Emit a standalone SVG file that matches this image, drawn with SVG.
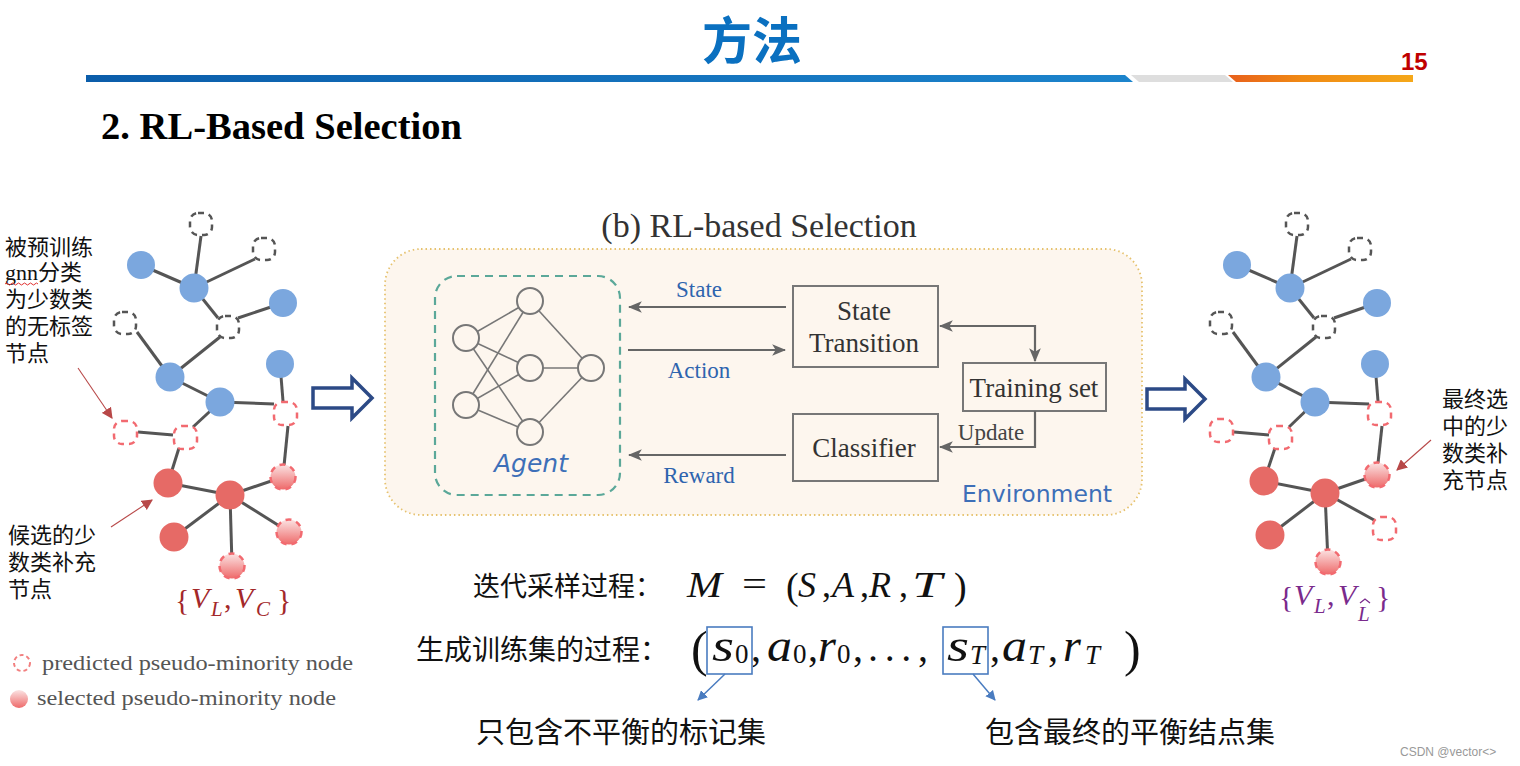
<svg xmlns="http://www.w3.org/2000/svg" width="1520" height="766" viewBox="0 0 1520 766">
<defs>
<linearGradient id="gBlue" x1="0" y1="0" x2="1" y2="0"><stop offset="0" stop-color="#0B5DAA"/><stop offset="1" stop-color="#1C84CC"/></linearGradient>
<linearGradient id="gOrange" x1="0" y1="0" x2="1" y2="0"><stop offset="0" stop-color="#E8601C"/><stop offset="0.4" stop-color="#F08A14"/><stop offset="1" stop-color="#F5A81A"/></linearGradient>
<linearGradient id="gSel" x1="0" y1="0" x2="0" y2="1"><stop offset="0" stop-color="#FBE3E3"/><stop offset="1" stop-color="#EE6A6A"/></linearGradient>
<marker id="ahBig" viewBox="0 0 12 10" refX="11" refY="5" markerWidth="14" markerHeight="12" markerUnits="userSpaceOnUse" orient="auto-start-reverse"><path d="M0,0 L12,5 L0,10 L3,5 z" fill="#666"/></marker>
<marker id="ahRed" viewBox="0 0 10 10" refX="9" refY="5" markerWidth="11" markerHeight="11" markerUnits="userSpaceOnUse" orient="auto"><path d="M0,0 L10,5 L0,10 z" fill="#B84848"/></marker>
<marker id="ahBlue" viewBox="0 0 10 10" refX="9" refY="5" markerWidth="10" markerHeight="10" markerUnits="userSpaceOnUse" orient="auto"><path d="M0,0 L10,5 L0,10 z" fill="#4A7CC0"/></marker>
</defs>
<style>
.edge{stroke:#555;stroke-width:3;fill:none}
.bn{fill:#7BA7DE}
.rn{fill:#E66A66}
.dg{fill:none;stroke:#555;stroke-width:2.5;stroke-dasharray:6 5}
.dr{fill:none;stroke:#F26A70;stroke-width:2.5;stroke-dasharray:6 5}
.sel{fill:url(#gSel);stroke:#F26A70;stroke-width:2.5;stroke-dasharray:6 5}
.cn{font-family:"Noto Sans CJK SC",sans-serif;fill:#111}
.serif{font-family:"Liberation Serif","Times New Roman",serif}
.it{font-style:italic}
.box{fill:none;stroke:#777;stroke-width:2}
.nn{fill:#FDF6EE;stroke:#777;stroke-width:2}
.nl{stroke:#777;stroke-width:1.6}
.arr{stroke:#666;stroke-width:2.2;fill:none}
.lbl{font-family:"Liberation Serif",serif;font-size:23px;fill:#2E64AE}
.bt{font-family:"Liberation Serif",serif;font-size:27px;fill:#333;text-anchor:middle}
.ann{stroke:#B84848;stroke-width:1.1}
.big{fill:#fff;stroke:#2C4A86;stroke-width:3.5;stroke-linejoin:miter}
</style>
<rect width="1520" height="766" fill="#fff"/>

<g id="header">
<text x="752" y="59" text-anchor="middle" font-family="Noto Sans CJK SC,sans-serif" font-weight="bold" font-size="50" fill="#0A70C0">方法</text>
<text x="1401" y="70" font-family="Liberation Sans,Arial,sans-serif" font-weight="bold" font-size="24" fill="#C00000">15</text>
<polygon points="86,75 1125,75 1133,82 86,82" fill="url(#gBlue)"/>
<polygon points="1131,75 1225,75 1233,82 1139,82" fill="#DEDEDE"/>
<polygon points="1228,75 1413,75 1413,82 1236,82" fill="url(#gOrange)"/>
<text x="101" y="139" font-family="Liberation Serif,serif" font-weight="bold" font-size="37" fill="#000" textLength="361" lengthAdjust="spacingAndGlyphs">2. RL-Based Selection</text>
</g>

<g id="left-graph">
<g id="left-edges">
<line class="edge" x1="141" y1="265" x2="194" y2="288"/>
<line class="edge" x1="194" y1="288" x2="201" y2="236"/>
<line class="edge" x1="194" y1="288" x2="255" y2="259"/>
<line class="edge" x1="194" y1="288" x2="218" y2="318"/>
<line class="edge" x1="238" y1="318" x2="283" y2="303"/>
<line class="edge" x1="170" y1="377" x2="220" y2="337"/>
<line class="edge" x1="137" y1="332" x2="170" y2="377"/>
<line class="edge" x1="170" y1="377" x2="220" y2="402"/>
<line class="edge" x1="220" y1="402" x2="193" y2="427"/>
<line class="edge" x1="220" y1="402" x2="274" y2="404"/>
<line class="edge" x1="280" y1="364" x2="283" y2="401"/>
<line class="edge" x1="138" y1="432" x2="173" y2="435"/>
<line class="edge" x1="179" y1="448" x2="168" y2="483"/>
<line class="edge" x1="288" y1="426" x2="284" y2="466"/>
<line class="edge" x1="168" y1="483" x2="230" y2="495"/>
<line class="edge" x1="230" y1="495" x2="283" y2="477"/>
<line class="edge" x1="230" y1="495" x2="174" y2="537"/>
<line class="edge" x1="230" y1="495" x2="289" y2="532"/>
<line class="edge" x1="230" y1="495" x2="232" y2="565"/>
</g>
<g id="L-A"><circle class="bn" cx="141" cy="265" r="14"/></g>
<g id="L-B"><circle class="bn" cx="194" cy="288" r="14.5"/></g>
<g id="L-C"><circle class="bn" cx="283" cy="303" r="14"/></g>
<g id="L-D"><circle class="bn" cx="170" cy="377" r="14.5"/></g>
<g id="L-E"><circle class="bn" cx="220" cy="402" r="14.5"/></g>
<g id="L-F"><circle class="bn" cx="280" cy="364" r="14"/></g>
<g id="L-G1"><rect class="dg" x="190" y="213" width="22" height="22" rx="8"/></g>
<g id="L-G2"><rect class="dg" x="253" y="238" width="22" height="22" rx="8"/></g>
<g id="L-G3"><rect class="dg" x="217" y="316" width="22" height="22" rx="8"/></g>
<g id="L-G4"><rect class="dg" x="114" y="312" width="22" height="22" rx="8"/></g>
<g id="L-R1"><rect class="dr" x="114" y="421" width="23" height="23" rx="8"/></g>
<g id="L-R2"><rect class="dr" x="174" y="426" width="23" height="23" rx="8"/></g>
<g id="L-R3"><rect class="dr" x="274" y="402" width="23" height="23" rx="8"/></g>
<g id="L-S1"><circle class="rn" cx="168" cy="483" r="14.5"/></g>
<g id="L-S2"><circle class="rn" cx="230" cy="495" r="14.5"/></g>
<g id="L-S3"><circle class="rn" cx="174" cy="537" r="14.5"/></g>
<g id="L-P1"><circle class="sel" cx="283" cy="477" r="12.5"/></g>
<g id="L-P2"><circle class="sel" cx="289" cy="532" r="12.5"/></g>
<g id="L-P3"><circle class="sel" cx="232" cy="566" r="12.5"/></g>
<g id="L-label" class="serif" fill="#A3282A">
<text x="175" y="610" font-size="30">{</text>
<text x="191" y="608" font-size="30" class="it">V</text>
<text x="211" y="616" font-size="21" class="it">L</text>
<text x="224" y="608" font-size="30">,</text>
<text x="235" y="608" font-size="30" class="it">V</text>
<text x="256" y="616" font-size="21" class="it">C</text>
<text x="277" y="610" font-size="30">}</text>
</g>
</g>

<g id="left-annotations">
<text class="cn" x="5" y="255" font-size="22">被预训练</text>
<text x="5" y="280" font-size="22"><tspan class="serif" fill="#111">gnn</tspan><tspan class="cn">分类</tspan></text>
<path d="M5,284 q1.5,-2 3,0 t3,0 t3,0 t3,0 t3,0 t3,0 t3,0 t3,0 t3,0 t3,0 t3,0" fill="none" stroke="#E03030" stroke-width="1"/>
<text class="cn" x="5" y="307" font-size="22">为少数类</text>
<text class="cn" x="5" y="334" font-size="22">的无标签</text>
<text class="cn" x="5" y="361" font-size="22">节点</text>
<line class="ann" x1="78" y1="368" x2="112" y2="418" marker-end="url(#ahRed)"/>
<text class="cn" x="8" y="543" font-size="22">候选的少</text>
<text class="cn" x="8" y="570" font-size="22">数类补充</text>
<text class="cn" x="8" y="597" font-size="22">节点</text>
<line class="ann" x1="111" y1="527" x2="152" y2="500" marker-end="url(#ahRed)"/>
</g>

<g id="legend">
<circle cx="22" cy="663" r="8" fill="none" stroke="#F28080" stroke-width="2" stroke-dasharray="4 3"/>
<text class="serif" x="42" y="670" font-size="22" fill="#555" textLength="311" lengthAdjust="spacingAndGlyphs">predicted pseudo-minority node</text>
<circle cx="19" cy="699" r="9" fill="url(#gSel)"/>
<text class="serif" x="37" y="705" font-size="22" fill="#555" textLength="299" lengthAdjust="spacingAndGlyphs">selected pseudo-minority node</text>
</g>

<g id="arrow-left"><path class="big" d="M313,388 L352,388 L352,378 L372,398 L352,418 L352,408 L313,408 Z"/></g>
<g id="arrow-right"><path class="big" d="M1147,389 L1185,389 L1185,379 L1205,399 L1185,419 L1185,409 L1147,409 Z"/></g>

<g id="panel-title"><text x="759" y="237" text-anchor="middle" font-family="Liberation Serif,serif" font-size="34" fill="#333">(b) RL-based Selection</text></g>
<g id="environment">
<rect x="385" y="249" width="757" height="266" rx="36" fill="#FDF6EE" stroke="#E6C26E" stroke-width="1.8" stroke-dasharray="1.5 3"/>
<text x="962" y="502" font-family="DejaVu Sans,sans-serif" font-size="23.5" fill="#3D6FB8">Environment</text>
</g>

<g id="agent">
<rect x="435" y="276" width="185" height="219" rx="22" fill="none" stroke="#5BA899" stroke-width="2.2" stroke-dasharray="8 6"/>
<g id="nn-links">
<line class="nl" x1="466" y1="338" x2="530" y2="301"/><line class="nl" x1="466" y1="338" x2="530" y2="368"/><line class="nl" x1="466" y1="338" x2="530" y2="432"/>
<line class="nl" x1="466" y1="405" x2="530" y2="301"/><line class="nl" x1="466" y1="405" x2="530" y2="368"/><line class="nl" x1="466" y1="405" x2="530" y2="432"/>
<line class="nl" x1="530" y1="301" x2="591" y2="368"/><line class="nl" x1="530" y1="368" x2="591" y2="368"/><line class="nl" x1="530" y1="432" x2="591" y2="368"/>
</g>
<circle class="nn" cx="466" cy="338" r="13"/><circle class="nn" cx="466" cy="405" r="13"/>
<circle class="nn" cx="530" cy="301" r="13"/><circle class="nn" cx="530" cy="368" r="13"/><circle class="nn" cx="530" cy="432" r="13"/>
<circle class="nn" cx="591" cy="368" r="13"/>
<text x="531" y="472" text-anchor="middle" font-family="DejaVu Sans,sans-serif" font-style="italic" font-size="25" fill="#3D6FB8">Agent</text>
</g>

<g id="state-transition"><rect class="box" x="793" y="286" width="145" height="81"/><text class="bt" x="864" y="320">State</text><text class="bt" x="864" y="352">Transition</text></g>
<g id="training-set"><rect class="box" x="963" y="363" width="143" height="48"/><text class="bt" x="1034" y="397">Training set</text></g>
<g id="classifier"><rect class="box" x="793" y="414" width="145" height="67"/><text class="bt" x="864" y="457">Classifier</text></g>

<g id="connectors">
<line class="arr" x1="786" y1="307" x2="629" y2="307" marker-end="url(#ahBig)"/>
<line class="arr" x1="628" y1="350" x2="785" y2="350" marker-end="url(#ahBig)"/>
<line class="arr" x1="786" y1="455" x2="629" y2="455" marker-end="url(#ahBig)"/>
<polyline class="arr" points="940,326 1035,326 1035,361" marker-start="url(#ahBig)" marker-end="url(#ahBig)"/>
<polyline class="arr" points="1035,411 1035,447 940,447" marker-end="url(#ahBig)"/>
<line x1="725" y1="674" x2="698" y2="700" stroke="#4A7CC0" stroke-width="1.5" marker-end="url(#ahBlue)"/>
<line x1="973" y1="674" x2="995" y2="700" stroke="#4A7CC0" stroke-width="1.5" marker-end="url(#ahBlue)"/>
</g>
<g id="connector-labels">
<text class="lbl" x="699" y="297" text-anchor="middle">State</text>
<text class="lbl" x="699" y="378" text-anchor="middle">Action</text>
<text class="lbl" x="699" y="483" text-anchor="middle">Reward</text>
<text x="991" y="440" text-anchor="middle" font-family="Liberation Serif,serif" font-size="23" fill="#444">Update</text>
</g>

<g id="right-graph">
<g id="right-edges">
<line class="edge" x1="1237" y1="265" x2="1290" y2="288"/>
<line class="edge" x1="1290" y1="288" x2="1297" y2="236"/>
<line class="edge" x1="1290" y1="288" x2="1351" y2="259"/>
<line class="edge" x1="1290" y1="288" x2="1314" y2="318"/>
<line class="edge" x1="1334" y1="318" x2="1377" y2="303"/>
<line class="edge" x1="1266" y1="377" x2="1316" y2="337"/>
<line class="edge" x1="1233" y1="332" x2="1266" y2="377"/>
<line class="edge" x1="1266" y1="377" x2="1315" y2="402"/>
<line class="edge" x1="1315" y1="402" x2="1289" y2="427"/>
<line class="edge" x1="1315" y1="402" x2="1369" y2="404"/>
<line class="edge" x1="1375" y1="364" x2="1378" y2="401"/>
<line class="edge" x1="1234" y1="432" x2="1269" y2="435"/>
<line class="edge" x1="1275" y1="448" x2="1264" y2="481"/>
<line class="edge" x1="1382" y1="426" x2="1378" y2="463"/>
<line class="edge" x1="1264" y1="481" x2="1325" y2="493"/>
<line class="edge" x1="1325" y1="493" x2="1377" y2="475"/>
<line class="edge" x1="1325" y1="493" x2="1270" y2="535"/>
<line class="edge" x1="1325" y1="493" x2="1374" y2="520"/>
<line class="edge" x1="1325" y1="493" x2="1328" y2="562"/>
</g>
<g id="R-A"><circle class="bn" cx="1237" cy="265" r="14"/></g>
<g id="R-B"><circle class="bn" cx="1290" cy="288" r="14.5"/></g>
<g id="R-C"><circle class="bn" cx="1377" cy="303" r="14"/></g>
<g id="R-D"><circle class="bn" cx="1266" cy="377" r="14.5"/></g>
<g id="R-E"><circle class="bn" cx="1315" cy="402" r="14.5"/></g>
<g id="R-F"><circle class="bn" cx="1375" cy="364" r="14"/></g>
<g id="R-G1"><rect class="dg" x="1286" y="213" width="22" height="22" rx="8"/></g>
<g id="R-G2"><rect class="dg" x="1349" y="238" width="22" height="22" rx="8"/></g>
<g id="R-G3"><rect class="dg" x="1313" y="316" width="22" height="22" rx="8"/></g>
<g id="R-G4"><rect class="dg" x="1210" y="312" width="22" height="22" rx="8"/></g>
<g id="R-R1"><rect class="dr" x="1210" y="419" width="23" height="23" rx="8"/></g>
<g id="R-R2"><rect class="dr" x="1269" y="426" width="23" height="23" rx="8"/></g>
<g id="R-R3"><rect class="dr" x="1368" y="402" width="23" height="23" rx="8"/></g>
<g id="R-S1"><circle class="rn" cx="1264" cy="481" r="14.5"/></g>
<g id="R-S2"><circle class="rn" cx="1325" cy="493" r="14.5"/></g>
<g id="R-S3"><circle class="rn" cx="1270" cy="535" r="14.5"/></g>
<g id="R-P1"><circle class="sel" cx="1377" cy="475" r="12.5"/></g>
<g id="R-P2"><rect class="dr" x="1373" y="517" width="23" height="23" rx="8"/></g>
<g id="R-P3"><circle class="sel" cx="1328" cy="562" r="12.5"/></g>
<g id="R-label" class="serif" fill="#7A2A8C">
<text x="1279" y="607" font-size="30">{</text>
<text x="1294" y="605" font-size="30" class="it">V</text>
<text x="1314" y="613" font-size="21" class="it">L</text>
<text x="1327" y="605" font-size="30">,</text>
<text x="1338" y="605" font-size="30" class="it">V</text>
<text x="1358" y="621" font-size="21" class="it">L</text>
<path d="M1360,603 L1365,599 L1370,603" fill="none" stroke="#7A2A8C" stroke-width="1.3"/>
<text x="1376" y="607" font-size="30">}</text>
</g>
</g>

<g id="right-annotations">
<text class="cn" x="1442" y="407" font-size="22">最终选</text>
<text class="cn" x="1442" y="434" font-size="22">中的少</text>
<text class="cn" x="1442" y="461" font-size="22">数类补</text>
<text class="cn" x="1442" y="488" font-size="22">充节点</text>
<line class="ann" x1="1431" y1="440" x2="1397" y2="470" marker-end="url(#ahRed)"/>
</g>

<g id="formula-1">
<text class="cn" x="473" y="596" font-size="27">迭代采样过程：</text>
<g class="serif" font-size="36" fill="#111">
<text x="687" y="597" class="it" textLength="35" lengthAdjust="spacingAndGlyphs">M</text>
<text x="742" y="596" textLength="25" lengthAdjust="spacingAndGlyphs">=</text>
<text x="786" y="599" font-size="38">(</text>
<text x="798" y="597" class="it">S</text>
<text x="822" y="597">,</text>
<text x="832" y="597" class="it">A</text>
<text x="860" y="597">,</text>
<text x="869" y="597" class="it">R</text>
<text x="899" y="597">,</text>
<text x="912" y="597" class="it" textLength="30" lengthAdjust="spacingAndGlyphs">T</text>
<text x="954" y="599" font-size="38">)</text>
</g>
</g>

<g id="formula-2">
<text class="cn" x="416" y="660" font-size="28">生成训练集的过程：</text>
<g class="serif" fill="#111">
<text x="691" y="666" font-size="50">(</text>
<text x="712" y="661" font-size="46" class="it" textLength="22" lengthAdjust="spacingAndGlyphs">s</text>
<text x="735" y="663" font-size="27">0</text>
<text x="751" y="661" font-size="40">,</text>
<text x="767" y="661" font-size="46" class="it" textLength="25" lengthAdjust="spacingAndGlyphs">a</text>
<text x="793" y="663" font-size="27">0</text>
<text x="808" y="661" font-size="40">,</text>
<text x="818" y="661" font-size="46" class="it">r</text>
<text x="837" y="663" font-size="27">0</text>
<text x="853" y="661" font-size="40">,</text>
<text x="868" y="661" font-size="40" textLength="60" lengthAdjust="spacing">...,</text>
<text x="947" y="661" font-size="46" class="it" textLength="22" lengthAdjust="spacingAndGlyphs">s</text>
<text x="970" y="664" font-size="27" class="it">T</text>
<text x="990" y="661" font-size="40">,</text>
<text x="1002" y="661" font-size="46" class="it" textLength="25" lengthAdjust="spacingAndGlyphs">a</text>
<text x="1028" y="664" font-size="27" class="it">T</text>
<text x="1048" y="661" font-size="40">,</text>
<text x="1063" y="661" font-size="46" class="it">r</text>
<text x="1085" y="664" font-size="27" class="it">T</text>
<text x="1124" y="666" font-size="50">)</text>
</g>
<rect x="707" y="627" width="45" height="47" fill="none" stroke="#4A7CC0" stroke-width="1.6"/>
<rect x="943" y="627" width="45" height="47" fill="none" stroke="#4A7CC0" stroke-width="1.6"/>
<text class="cn" x="476" y="743" font-size="29">只包含不平衡的标记集</text>
<text class="cn" x="985" y="743" font-size="29">包含最终的平衡结点集</text>
</g>

<text x="1400" y="756" font-family="Liberation Sans,Arial,sans-serif" font-size="12" fill="#999">CSDN @vector&lt;&gt;</text>
</svg>
